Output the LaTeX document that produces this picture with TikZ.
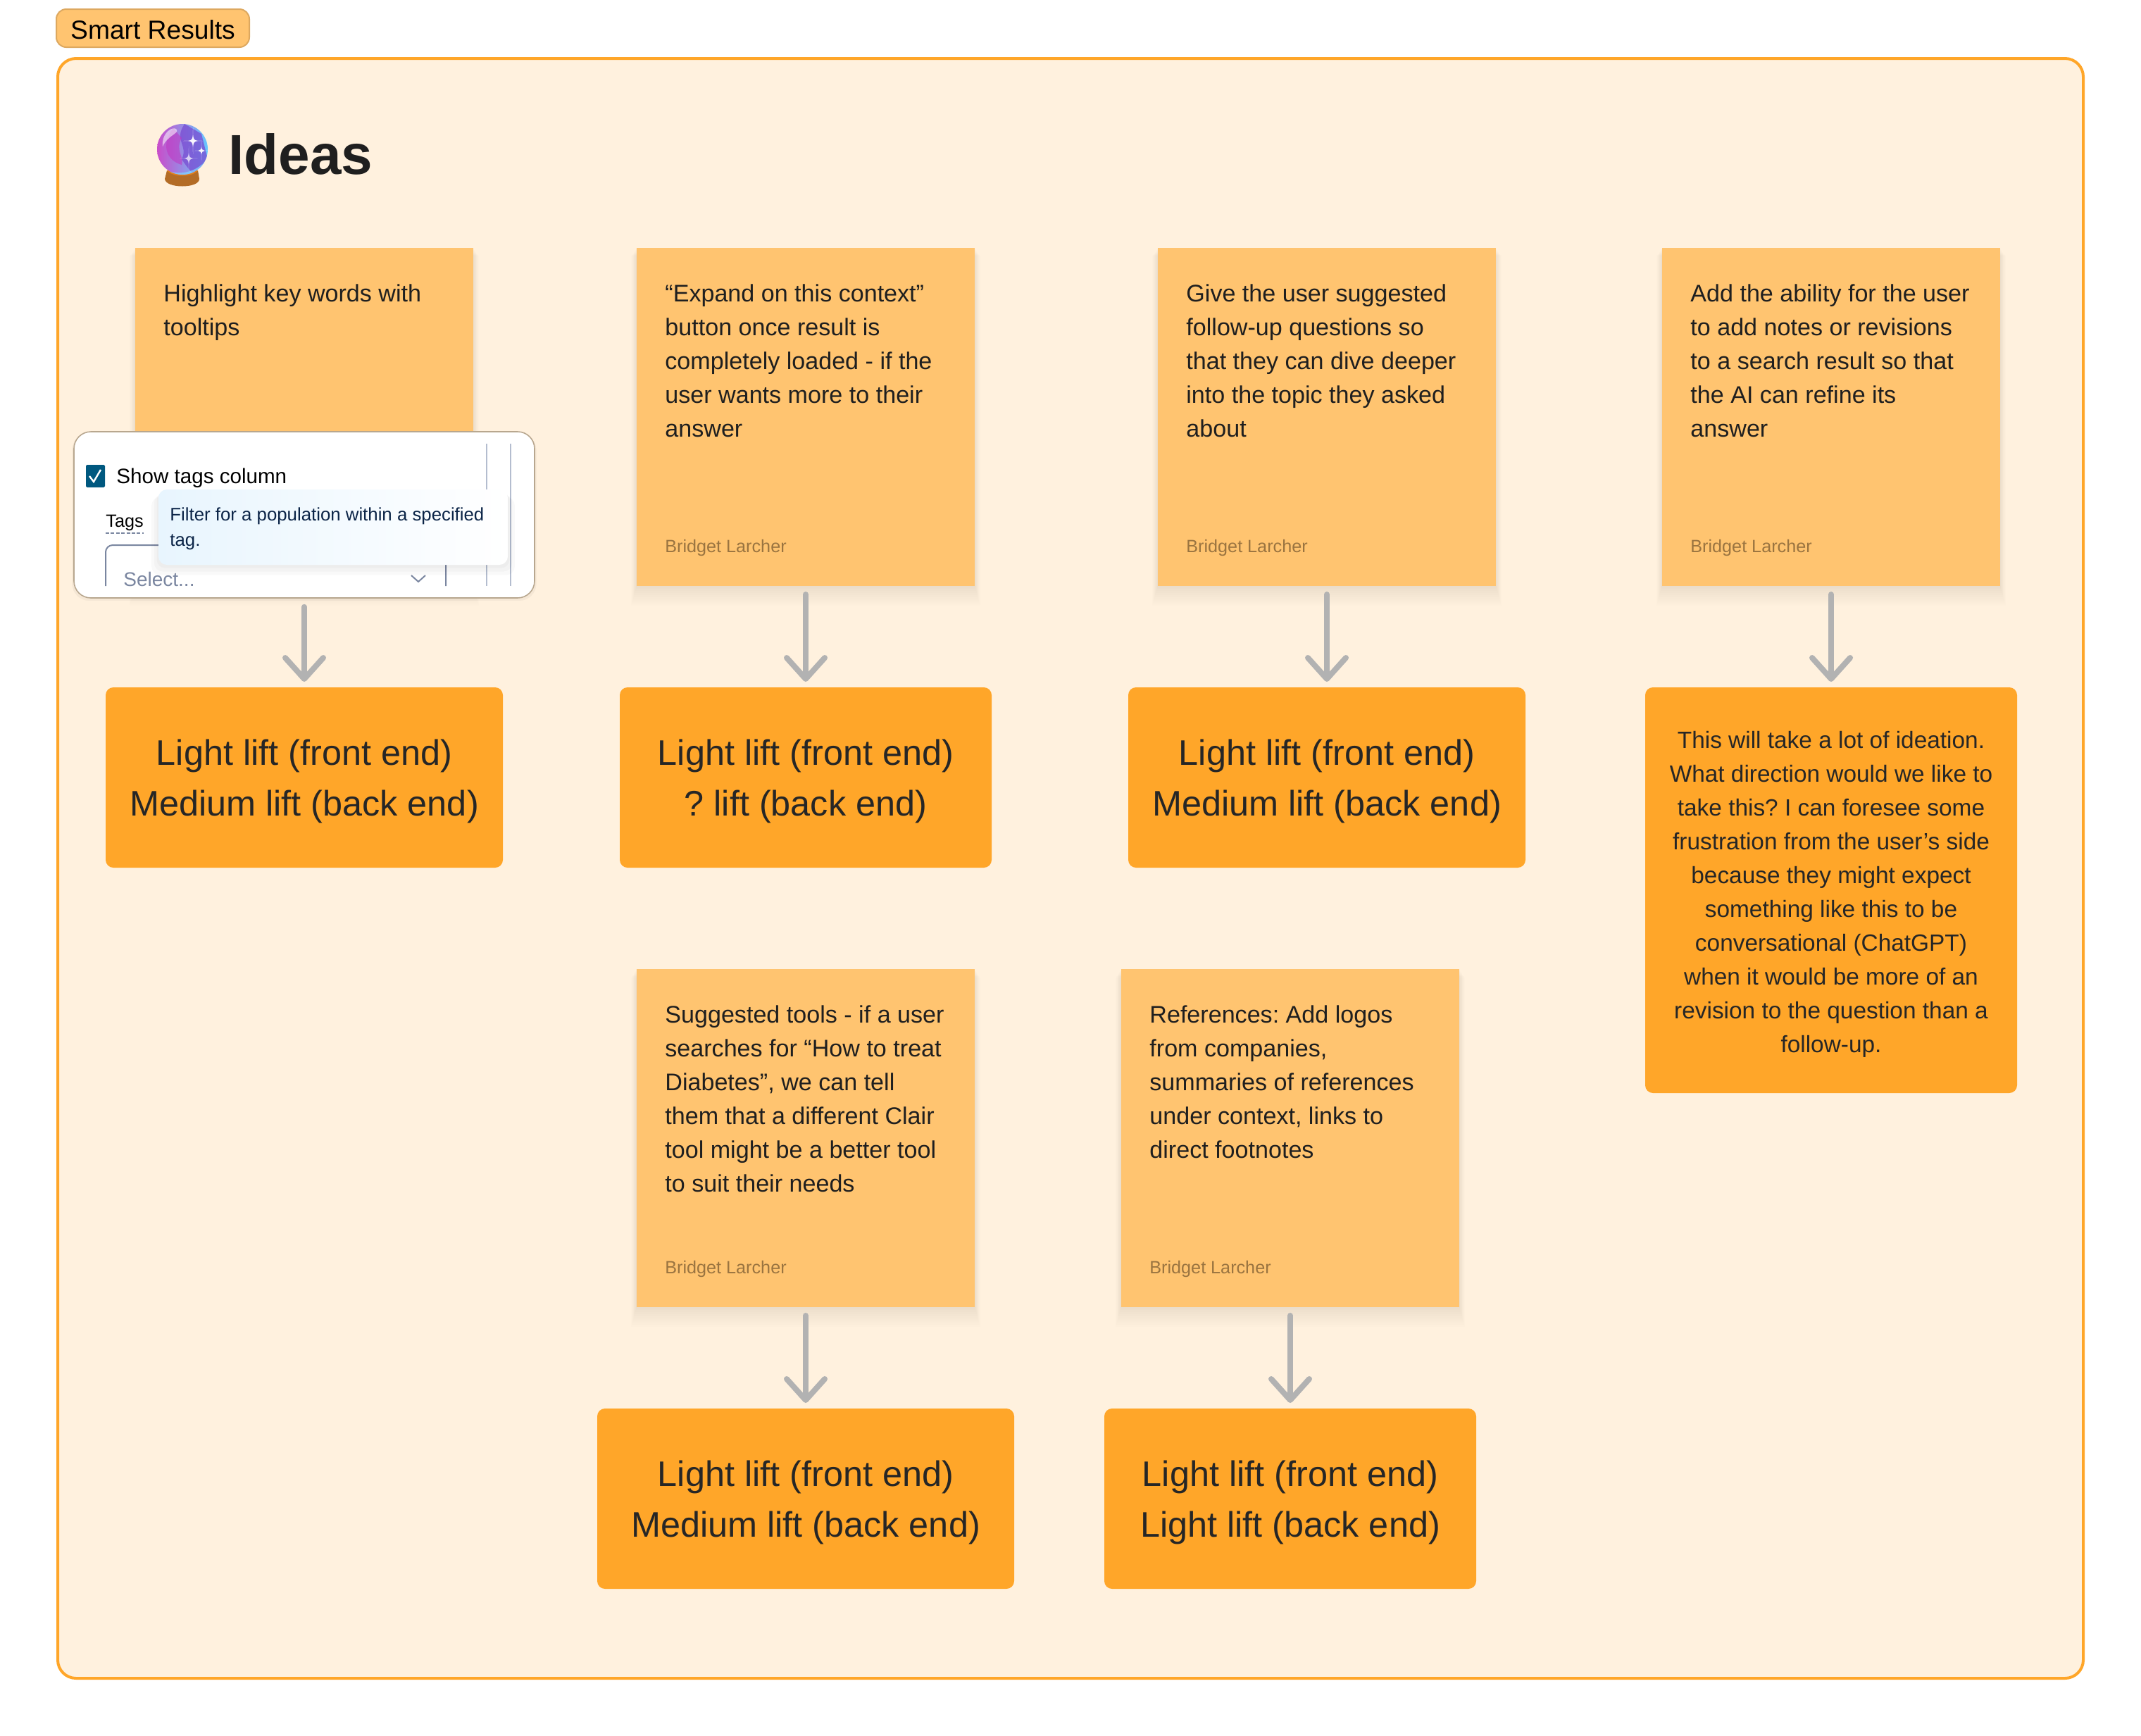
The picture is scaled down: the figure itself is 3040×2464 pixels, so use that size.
\documentclass[tikz,border=0pt]{standalone}
\usepackage{fontspec}
\setmainfont{Liberation Sans}
\usetikzlibrary{positioning,arrows.meta,shadows}

\definecolor{pagecream}{HTML}{FFF1DE}
\definecolor{stickyorange}{HTML}{FFC470}
\definecolor{liftorange}{HTML}{FFA629}
\definecolor{tagborder}{HTML}{DDA85F}
\definecolor{arrowgrey}{HTML}{B2B2B2}
\definecolor{authorbrown}{HTML}{9A7440}
\definecolor{cardborder}{HTML}{B8A78F}
\definecolor{uiline}{HTML}{B4BDCF}
\definecolor{uitext}{HTML}{7A86A0}
\definecolor{tipnavy}{HTML}{0B2447}
\definecolor{tipblue}{HTML}{E8F5FE}
\definecolor{checkblue}{HTML}{00587F}

\newcommand{\sparkle}[4]{%
    \fill[white, opacity=#4] (#1,#2-#3*1.35) .. controls (#1,#2) .. (#1+#3,#2)
        .. controls (#1,#2) .. (#1,#2+#3*1.35)
        .. controls (#1,#2) .. (#1-#3,#2)
        .. controls (#1,#2) .. cycle;}
\newcommand{\liftstrut}{\rule{0pt}{24pt}}
\frenchspacing

\begin{document}
\begin{tikzpicture}[
        x=0.5pt, y=-0.5pt,
        softlayer/.style 2 args={general shadow={fill=black, opacity=.007, shadow yshift=#1, shadow scale=#2}},
        softshadow/.style={
            softlayer={-.5pt}{1.003}, softlayer={-1.5pt}{1.006},
            softlayer={-2.5pt}{1.009}, softlayer={-3.5pt}{1.012},
            softlayer={-4.5pt}{1.015}, softlayer={-5.5pt}{1.018},
            softlayer={-6.5pt}{1.022}, softlayer={-7.5pt}{1.026},
            softlayer={-8.5pt}{1.030}, softlayer={-9.5pt}{1.034}},
        sticky/.style={rectangle, fill=stickyorange, minimum size=240pt, inner sep=0pt,
                    outer sep=0pt, softshadow},
        stickytext/.style={inner sep=0pt, align=left, text=black!88,
                    font=\fontsize{17.05}{24}\selectfont},
        author/.style={inner sep=0pt, text=authorbrown, font=\fontsize{12.6}{15}\selectfont},
        lift/.style={rectangle, rounded corners=5.5pt, fill=liftorange, align=center,
                    inner sep=0pt, outer sep=0pt, minimum height=128pt, text=black!85,
                    font=\fontsize{25.2}{36}\selectfont},
        flow/.style={draw=arrowgrey, line width=4pt, line cap=round,
                    -{Straight Barb[round, length=15pt, width=27pt]},
                    shorten <=6pt, shorten >=4pt},
        uistroke/.style={draw=uiline, line width=1pt},
    ]
        \path[use as bounding box, fill=white] (0,0) rectangle (3040,2464);

        % frame and tab
        \node[rectangle, draw=liftorange, fill=pagecream, line width=2pt, rounded corners=13pt,
              minimum width=1438pt, minimum height=1150pt, inner sep=0pt] (frame) at (1520,1233) {};
        \node[rectangle, draw=tagborder, fill=stickyorange, line width=1pt, rounded corners=7pt,
              minimum width=137pt, minimum height=27pt, inner sep=0pt,
              font=\fontsize{18.6}{20}\selectfont] (tab) at (217,40) {\rule{0pt}{15.5pt}Smart Results};

        % crystal ball
        \fill[brown!70!orange!85!black] (237,242) -- (281,242) -- (283,254)
            .. controls (283,268) and (235,268) .. (234,254) -- cycle;
        \fill[orange!60!brown] (237,242) .. controls (245,252) and (273,252) .. (281,242) -- cycle;
        \begin{scope}
            \clip (259,212) circle[radius=36];
            \shade[left color=violet!60!magenta!70!white, right color=blue!35!cyan!60!white]
                (223,176) rectangle (295,248);
            \fill[blue!50!violet!70!white, opacity=.75] (262,176) .. controls (246,200) and (268,206) .. (258,226)
                .. controls (266,238) and (272,246) .. (280,250) -- (296,230) -- (286,190) -- cycle;
            \fill[violet!60!magenta!80!white, opacity=.55] (246,182) .. controls (228,205) and (236,228) .. (258,234)
                .. controls (262,222) and (248,214) .. (258,196) -- cycle;
            \fill[blue!30!cyan!50!white, opacity=.7]
                (225,236) .. controls (245,250) and (275,250) .. (295,225) -- (295,250) -- (225,250) -- cycle;
        \end{scope}
        \fill[white, opacity=.55] (231,208) .. controls (229,188) and (246,178) .. (251,184)
            .. controls (254,190) and (238,192) .. (231,208) -- cycle;
        \sparkle{274}{200}{14}{.95}
        \sparkle{286}{214}{10}{.95}
        \sparkle{268}{225}{13}{.7}

        \node[anchor=base west, inner sep=0pt, text=black!88, font=\fontsize{40}{44}\selectfont\bfseries]
            (ideasTitle) at (324,247) {Ideas};

        % stickies, first row
        \node[sticky] (noteTips) at (432,592) {};
        \node[sticky] (noteExpand) at (1144,592) {};
        \node[sticky] (noteFollow) at (1884,592) {};
        \node[sticky] (noteRevise) at (2600,592) {};

        % stickies, second row
        \node[sticky, below=272pt of noteExpand] (noteTools) {};
        \node[sticky] (noteRefs) at (1832,1616) {};

        \node[stickytext, below right=25.7pt and 20pt of noteTips.north west] (textTips) {Highlight key words with\\tooltips};
        \node[stickytext, below right=25.7pt and 20pt of noteExpand.north west] (textExpand)
            {“Expand on this context”\\button once result is\\completely loaded - if the\\user wants more to their\\answer};
        \node[stickytext, below right=25.7pt and 20pt of noteFollow.north west] (textFollow)
            {Give the user suggested\\follow-up questions so\\that they can dive deeper\\into the topic they asked\\about};
        \node[stickytext, below right=25.7pt and 20pt of noteRevise.north west] (textRevise)
            {Add the ability for the user\\to add notes or revisions\\to a search result so that\\the AI can refine its\\answer};
        \node[stickytext, below right=25.7pt and 20pt of noteTools.north west] (textTools)
            {Suggested tools - if a user\\searches for “How to treat\\Diabetes”, we can tell\\them that a different Clair\\tool might be a better tool\\to suit their needs};
        \node[stickytext, below right=25.7pt and 20pt of noteRefs.north west] (textRefs)
            {References: Add logos\\from companies,\\summaries of references\\under context, links to\\direct footnotes};

        \node[author, above right=21pt and 20pt of noteExpand.south west] (byExpand) {Bridget Larcher};
        \node[author, above right=21pt and 20pt of noteFollow.south west] (byFollow) {Bridget Larcher};
        \node[author, above right=21pt and 20pt of noteRevise.south west] (byRevise) {Bridget Larcher};
        \node[author, above right=21pt and 20pt of noteTools.south west] (byTools) {Bridget Larcher};
        \node[author, above right=21pt and 20pt of noteRefs.south west] (byRefs) {Bridget Larcher};

        % estimates
        \node[lift, below=72pt of noteTips, minimum width=282pt] (liftTips) {\liftstrut Light lift (front end)\\Medium lift (back end)};
        \node[lift, below=72pt of noteExpand, minimum width=264pt] (liftExpand) {\liftstrut Light lift (front end)\\? lift (back end)};
        \node[lift, below=72pt of noteFollow, minimum width=282pt] (liftFollow) {\liftstrut Light lift (front end)\\Medium lift (back end)};
        \node[lift, below=72pt of noteRevise, minimum width=264pt, minimum height=288pt,
              font=\fontsize{16.7}{24}\selectfont] (liftRevise)
            {\rule{0pt}{17.5pt}This will take a lot of ideation.\\What direction would we like to\\take this? I can foresee some\\frustration from the user’s side\\because they might expect\\something like this to be\\conversational (ChatGPT)\\when it would be more of an\\revision to the question than a\\follow-up.};
        \node[lift, below=72pt of noteTools, minimum width=296pt] (liftTools) {\liftstrut Light lift (front end)\\Medium lift (back end)};
        \node[lift, below=72pt of noteRefs, minimum width=264pt] (liftRefs) {\liftstrut Light lift (front end)\\Light lift (back end)};

        % tooltip screenshot
        \node[rectangle, draw=cardborder, fill=white, line width=.8pt, rounded corners=12pt,
              minimum width=327pt, minimum height=118pt, inner sep=0pt,
              general shadow={fill=black, opacity=.04, shadow yshift=-1.5pt, shadow scale=1.008}] (card) at (432,731) {};
        \begin{scope}
            \clip (105,630) rectangle (759,832);
            \draw[uistroke] (691,630) -- (691,832);
            \draw[uistroke] (725,630) -- (725,832);
            \draw[uistroke, draw=uitext, rounded corners=5pt] (633,832) -- (633,774) -- (150,774) -- (150,832);
            \node[anchor=base west, inner sep=0pt, text=uitext, font=\fontsize{14}{16}\selectfont] (selectText) at (175,832) {Select...};
            \draw[uitext, line width=1pt] (584,817) -- (594,826) -- (604,817);
        \end{scope}
        \node[rectangle, fill=checkblue, minimum width=13.5pt, minimum height=16pt, inner sep=0pt,
              rounded corners=.8pt] (checkBox) at (135.5,676) {};
        \draw[white, line width=1.2pt] (127,676) -- (133,684) -- (143,667);
        \node[anchor=base west, inner sep=0pt, font=\fontsize{14.8}{16}\selectfont] (showTags) at (165,686) {Show tags column};
        \node[anchor=base west, inner sep=0pt, font=\fontsize{12.6}{14}\selectfont] (tagsLabel) at (150,748) {Tags};
        \draw[uitext, line width=.8pt, dash pattern=on 2.5pt off 1.2pt] (tagsLabel.west |- 0,757) -- (tagsLabel.east |- 0,757);
        \node[rectangle, rounded corners=6pt, left color=tipblue, right color=white, inner sep=0pt,
              minimum width=248pt, minimum height=53.5pt,
              general shadow={fill=black, opacity=.025, shadow yshift=-2pt, shadow scale=1.01},
              general shadow={fill=black, opacity=.025, shadow yshift=-4pt, shadow scale=1.025},
              general shadow={fill=black, opacity=.025, shadow yshift=-6pt, shadow scale=1.04}] (tooltip) at (473,748.5) {};
        \node[anchor=north west, inner sep=0pt, align=left, text=tipnavy, font=\fontsize{12.9}{18}\selectfont]
            (tooltipText) at (241,720) {Filter for a population within a specified\\tag.};

        % connectors
        \draw[flow] (card) -- (liftTips);
        \draw[flow] (noteExpand) -- (liftExpand);
        \draw[flow] (noteFollow) -- (liftFollow);
        \draw[flow] (noteRevise) -- (liftRevise);
        \draw[flow] (noteTools) -- (liftTools);
        \draw[flow] (noteRefs) -- (liftRefs);
    \end{tikzpicture}
\end{document}
